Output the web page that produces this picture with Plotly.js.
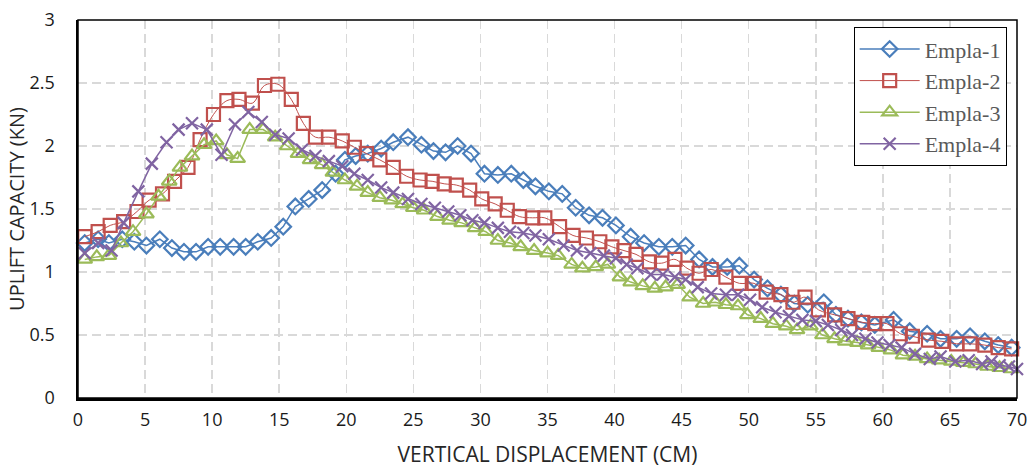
<!DOCTYPE html>
<html>
<head>
<meta charset="utf-8">
<script src="https://cdn.plot.ly/plotly-3.0.1.min.js"></script>
<style>
html,body{margin:0;padding:0;background:#fff;}
#chart{width:1031px;height:468px;}
</style>
</head>
<body>
<div id="chart"></div>
<script>
// Empla-1
const blueX = [0.5,1.5,2.3,3.3,4.2,5.1,6.1,7.0,7.9,8.8,9.7,10.6,11.6,12.5,13.4,14.4,15.3,16.2,17.2,18.2,19.2,19.9,20.7,21.6,22.6,23.5,24.6,25.6,26.5,27.4,28.3,29.3,30.3,31.3,32.3,33.2,34.1,35.1,36.1,37.1,38.1,39.1,40.1,41.2,42.2,43.3,44.3,45.3,46.3,47.3,48.4,49.3,50.4,51.4,52.4,53.4,54.4,55.6,56.5,57.4,58.4,59.4,60.8,62.0,63.3,64.3,65.5,66.5,67.6,68.6,69.6];
const blueY = [1.23,1.26,1.23,1.26,1.24,1.21,1.26,1.19,1.16,1.16,1.20,1.20,1.20,1.20,1.24,1.27,1.36,1.52,1.58,1.65,1.78,1.89,1.92,1.94,1.98,2.03,2.07,2.01,1.96,1.95,2.00,1.94,1.78,1.77,1.78,1.73,1.68,1.64,1.62,1.51,1.45,1.43,1.37,1.28,1.23,1.20,1.20,1.21,1.10,1.04,1.04,1.05,0.94,0.87,0.82,0.75,0.74,0.76,0.66,0.63,0.60,0.58,0.62,0.53,0.51,0.47,0.47,0.49,0.45,0.42,0.40];
// Empla-2
const redX = [0.5,1.5,2.4,3.4,4.4,5.3,6.3,7.2,8.2,9.1,10.1,11.1,12.0,13.0,13.9,14.9,15.9,16.8,17.7,18.7,19.7,20.6,21.5,22.5,23.5,24.5,25.5,26.4,27.3,28.2,29.2,30.1,31.1,32.0,32.9,33.9,34.8,35.9,36.9,37.9,38.9,39.8,40.7,41.6,42.6,43.5,44.5,45.4,46.3,47.2,48.3,49.3,50.4,51.3,52.4,53.3,54.2,55.2,56.4,57.4,58.5,59.4,60.3,61.3,62.2,63.4,64.4,65.5,66.5,67.6,68.6,69.6];
const redY = [1.28,1.32,1.37,1.40,1.48,1.57,1.62,1.72,1.83,2.05,2.25,2.36,2.37,2.34,2.48,2.49,2.37,2.18,2.07,2.07,2.04,1.99,1.94,1.89,1.83,1.76,1.73,1.72,1.70,1.69,1.65,1.58,1.54,1.49,1.44,1.43,1.43,1.36,1.29,1.27,1.24,1.20,1.17,1.14,1.08,1.07,1.10,1.03,0.99,1.02,0.96,0.91,0.91,0.84,0.82,0.76,0.80,0.70,0.66,0.63,0.60,0.59,0.59,0.51,0.49,0.46,0.45,0.43,0.43,0.42,0.40,0.39];
// Empla-3
const greenX = [0.5,1.4,2.3,3.2,4.1,5.1,6.0,6.8,7.6,8.5,9.4,10.3,11.1,11.9,12.8,13.8,14.7,15.6,16.4,17.3,18.2,19.0,19.9,20.8,21.6,22.5,23.4,24.2,25.0,25.8,26.8,27.7,28.6,29.6,30.4,31.3,32.2,33.0,34.0,35.0,35.8,36.8,37.6,38.6,39.5,40.4,41.2,42.1,43.0,43.8,44.7,45.6,46.6,47.5,48.3,49.2,49.9,50.9,51.8,52.8,53.6,54.6,55.5,56.4,57.2,58.1,58.9,59.7,60.6,61.5,62.4,63.3,64.2,65.1,66.0,66.9,67.8,68.7,69.6];
const greenY = [1.10,1.12,1.13,1.23,1.32,1.46,1.60,1.72,1.83,1.92,2.01,2.04,1.93,1.90,2.13,2.13,2.07,2.00,1.94,1.89,1.85,1.79,1.73,1.68,1.63,1.59,1.57,1.54,1.51,1.49,1.44,1.41,1.39,1.35,1.32,1.25,1.23,1.20,1.17,1.15,1.13,1.06,1.03,1.04,1.06,0.96,0.92,0.89,0.87,0.88,0.90,0.80,0.75,0.76,0.74,0.73,0.66,0.63,0.59,0.57,0.54,0.57,0.50,0.47,0.45,0.44,0.42,0.40,0.38,0.34,0.33,0.31,0.30,0.29,0.28,0.27,0.25,0.24,0.23];
// Empla-4
const purpleX = [0.5,1.5,2.5,3.4,4.5,5.5,6.6,7.5,8.5,9.6,10.7,11.7,12.7,13.7,14.7,15.7,16.7,17.7,18.7,19.7,20.6,21.6,22.6,23.5,24.6,25.6,26.6,27.6,28.5,29.4,30.3,31.3,32.2,33.2,34.1,35.1,36.2,37.2,38.2,39.2,40.1,40.9,41.7,42.7,43.6,44.5,45.3,46.2,47.2,48.3,49.2,50.1,51.0,52.0,53.0,54.0,55.0,55.9,56.9,57.7,58.7,59.6,60.5,61.4,62.4,63.5,64.3,65.4,66.4,67.4,68.1,68.7,69.4,70.0];
const purpleY = [1.15,1.23,1.17,1.39,1.64,1.86,2.03,2.13,2.18,2.13,1.93,2.17,2.27,2.19,2.09,2.06,1.97,1.92,1.88,1.84,1.78,1.73,1.67,1.63,1.58,1.54,1.51,1.48,1.45,1.41,1.39,1.35,1.32,1.31,1.29,1.26,1.21,1.17,1.15,1.13,1.11,1.06,1.03,0.98,0.98,0.96,0.94,0.88,0.83,0.82,0.82,0.78,0.72,0.68,0.65,0.62,0.61,0.58,0.54,0.50,0.47,0.44,0.42,0.40,0.35,0.31,0.33,0.29,0.30,0.27,0.29,0.26,0.25,0.23];

const seriesNames = ["Empla-1","Empla-2","Empla-3","Empla-4"];
const xTickVals = [0,5,10,15,20,25,30,35,40,45,50,55,60,65,70];
const yTickVals = [0,0.5,1,1.5,2,2.5,3];
const yTickText = ["0","0.5","1","1.5","2","2.5","3"];

function mk(x, y, name, color, symbol, size, lw, shape) {
  return {
    x: x, y: y, name: name, type: 'scatter', mode: 'lines+markers',
    line: {color: color, width: lw, shape: shape},
    marker: {symbol: symbol, size: size, color: color, line: {color: color, width: 2.2}},
    cliponaxis: false
  };
}

const traces = [
  mk(blueX, blueY, seriesNames[0], '#4A7EBB', 'diamond-open', 12, 1.5, 'linear'),
  mk(redX, redY, seriesNames[1], '#C0504D', 'square-open', 13, 1, 'spline'),
  mk(greenX, greenY, seriesNames[2], '#9BBB59', 'triangle-up-open', 13, 1.5, 'linear'),
  mk(purpleX, purpleY, seriesNames[3], '#8064A2', 'x-thin-open', 12, 1.5, 'linear')
];

const tickFont = {family: 'Open Sans, Liberation Sans, sans-serif', size: 18, color: '#1a1a1a'};
const xTitleFont = {family: 'Open Sans, Liberation Sans, sans-serif', size: 21, color: '#262626'};
const yTitleFont = {family: 'Open Sans, Liberation Sans, sans-serif', size: 20, color: '#262626'};

const layout = {
  width: 1031, height: 468,
  margin: {l: 78, r: 14, t: 20, b: 70, pad: 0},
  paper_bgcolor: '#fff', plot_bgcolor: '#fff',
  showlegend: true,
  xaxis: {
    range: [0, 70], tickvals: xTickVals, ticks: '', showline: true, linecolor: '#000', linewidth: 2.5,
    showgrid: true, gridcolor: '#d9d9d9', gridwidth: 1.5, griddash: '9px,5px', zeroline: false,
    tickfont: tickFont, ticklabelstandoff: 4,
    title: {text: 'VERTICAL DISPLACEMENT (CM)', font: xTitleFont, standoff: 17}
  },
  yaxis: {
    range: [0, 3], tickvals: yTickVals, ticktext: yTickText, ticks: '', showline: true, linecolor: '#000', linewidth: 2.5,
    showgrid: true, gridcolor: '#d9d9d9', gridwidth: 1.5, griddash: '9px,5px', zeroline: false,
    tickfont: tickFont, ticklabelstandoff: 17,
    title: {text: 'UPLIFT CAPACITY (KN)', font: yTitleFont, standoff: 0}
  },
  legend: {
    x: 0.989, y: 0.981, xanchor: 'right', yanchor: 'top',
    bgcolor: '#fff', bordercolor: '#000', borderwidth: 1,
    font: {family: 'Liberation Serif, Times New Roman, serif', size: 22, color: '#595959'},
    tracegroupgap: 0, itemwidth: 60
  },
  shapes: [{type: 'rect', xref: 'paper', yref: 'paper', x0: 0, x1: 1, y0: 0, y1: 1, line: {color: '#000', width: 1.5}}]
};

Plotly.newPlot('chart', traces, layout, {displayModeBar: false, staticPlot: true});
</script>
</body>
</html>
